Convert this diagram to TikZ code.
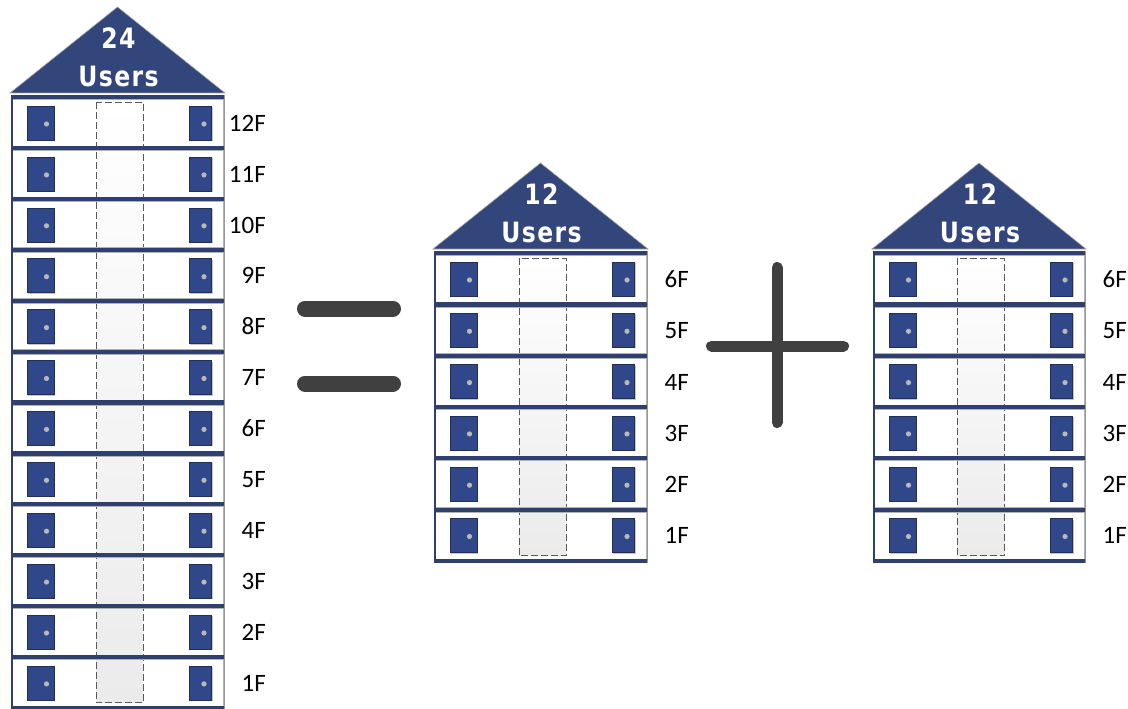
\documentclass[tikz,border=0pt]{standalone}
\usepackage{fontspec}
\setmainfont{Carlito}
\newfontfamily\rooffont{DejaVu Sans}[FakeStretch=0.84, LetterSpace=5]
\definecolor{roofc}{HTML}{33467C}
\definecolor{bandc}{HTML}{2F4070}
\definecolor{doorc}{HTML}{30478A}
\definecolor{doore}{HTML}{222F55}
\definecolor{shaftc}{HTML}{EBEBEB}
\definecolor{opc}{HTML}{404040}
\tikzset{
  rooftri/.style={fill=roofc, draw=gray!70, line width=0.6pt},
  bandbox/.style={fill=bandc},
  floorbox/.style={draw=gray!60, line width=0.6pt},
  shaftbox/.style={top color=white, bottom color=shaftc},
  shaftline/.style={draw=gray!70!black, dashed, dash pattern=on 7pt off 3pt, line width=0.9pt},
  doorbox/.style={fill=doorc, draw=doore, line width=0.6pt},
  doorshadow/.style={draw=gray!45, line width=1pt},
  knob/.style={fill=gray!55},
  floorlab/.style={anchor=base east, inner sep=0pt, font=\fontsize{25}{25}\selectfont},
  rooftext/.style={text=white, inner sep=0pt, font=\fontsize{28}{28}\rooffont\bfseries},
  opline/.style={draw=opc, line cap=round},
}
\newcommand\mybldg[8]{%
  \pgfmathsetmacro\cx{(#2+#3)/2}%
  \pgfmathsetmacro\bT{#5+2}%
  \pgfmathsetmacro\bB{\bT+#6*#7}%
  \fill[white] (#2,\bT) rectangle (#3,\bB);
  \shade[shaftbox] (\cx-21.5,\bT+7) rectangle (\cx+25.5,\bB-3);
  \draw[shaftline] (\cx-21.5,\bT+7) rectangle (\cx+25.5,\bB-3);
  \foreach \k in {1,...,#6} {
    \pgfmathsetmacro\ft{\bT+(\k-1)*#7}
    \pgfmathsetmacro\fb{\ft+#7}
    \pgfmathsetmacro\fm{(\ft+4.5+\fb)/2}
    \pgfmathtruncatemacro\lab{#6-\k+1}
    \fill[bandbox] (#2,\ft) rectangle (#3,\ft+4.5);
    \draw[floorbox] (#2+1.5,\ft+4.5) rectangle (#3-1,\fb);
    \draw[doorshadow] (#2+17,\ft+45.5) -- (#2+43.5,\ft+45.5) -- (#2+43.5,\ft+12);
    \draw[doorshadow] (#3-34,\ft+45.5) -- (#3-12,\ft+45.5) -- (#3-12,\ft+12);
    \draw[doorbox] (#2+16,\ft+11) rectangle (#2+43,\ft+45);
    \draw[doorbox] (#3-35,\ft+11) rectangle (#3-12.5,\ft+45);
    \fill[knob] (#2+35.5,\ft+29) circle (2.6);
    \fill[knob] (#3-20,\ft+29) circle (2.6);
    \node[floorlab] (#1-f\lab) at (#3+42,\fm+8.5) {\lab F};
  }
  \fill[bandbox] (#2,\bB) rectangle (#3,\bB+4.5);
  \draw[bandc, line width=2.5pt] (#2+1.2,\bT) -- (#2+1.2,\bB+4.5);
  \draw[gray!80, line width=0.8pt] (#3,\bT) -- (#3,\bB+4.5);
  \draw[rooftri] (#2-1,#5) -- (\cx,#4) -- (#3+1,#5) -- cycle;
  \node[rooftext] (#1-num) at (\cx+1,#4+31.5) {#8};
  \node[rooftext] (#1-users) at (\cx+1,#4+69.5) {Users};
}
\begin{document}
\begin{tikzpicture}[x=1pt,y=-1pt]
\useasboundingbox (0,0) rectangle (1128,709);
\mybldg{big}{11}{224}{7}{93}{12}{50.9}{24}
\mybldg{mid}{434}{647}{163}{249}{6}{51.3}{12}
\mybldg{rgt}{873}{1085}{163}{249}{6}{51.3}{12}
% equals sign
\draw[opline, line width=16pt] (305,308.5) -- (393,308.5);
\draw[opline, line width=16pt] (305,383.5) -- (393,383.5);
% plus sign
\draw[opline, line width=11pt] (711.5,346) -- (843.5,346);
\draw[opline, line width=11pt] (777,267.5) -- (777,422.5);
\end{tikzpicture}
\end{document}
